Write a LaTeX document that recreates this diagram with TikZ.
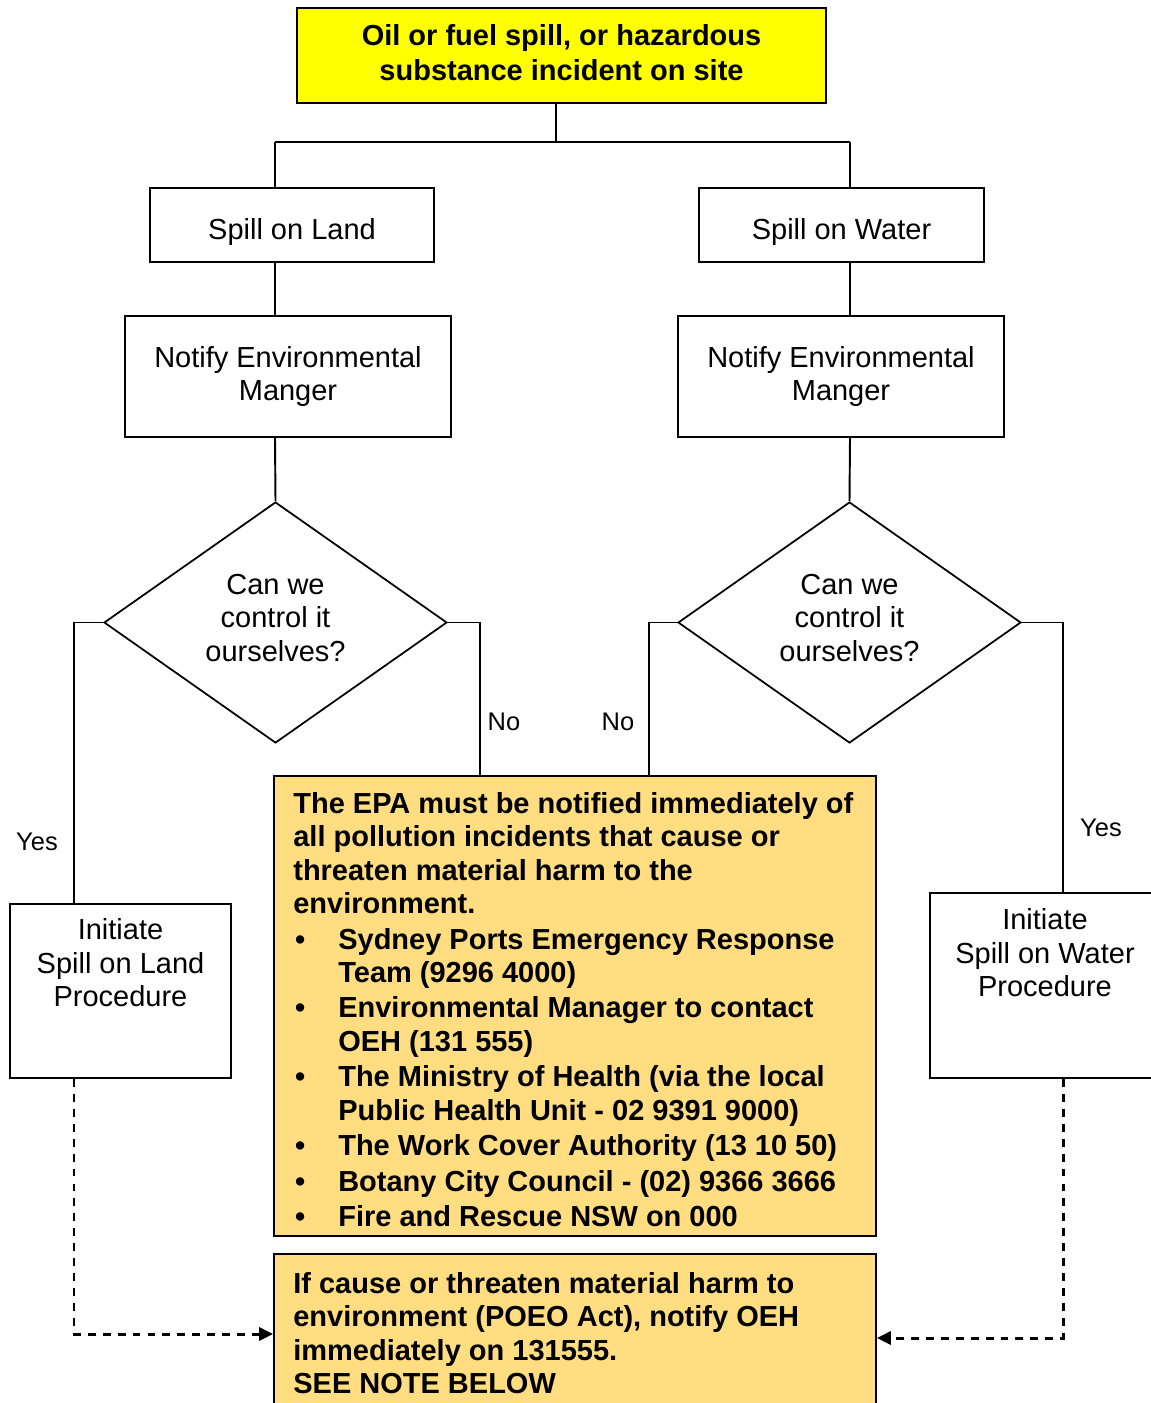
\documentclass[tikz,border=0pt]{standalone}
\usepackage{fontspec}
\setmainfont{Liberation Sans}
\usetikzlibrary{shapes.geometric,arrows.meta,positioning}
\definecolor{notefill}{RGB}{255,221,128}
\definecolor{alarmfill}{RGB}{255,255,0}
\newcommand{\bul}{\makebox[25.6pt][l]{\hspace{1pt}\textbullet}}
\newcommand{\cnt}{\hspace*{25.6pt}}

\begin{document}
\begin{tikzpicture}[x=0.02cm,y=-0.02cm,
    every node/.style={inner sep=0pt,font=\fontsize{16.5}{19}\selectfont},
    box/.style={draw,line width=1.1pt,align=center},
    onerow/.style={box,text height=20.5pt,text depth=3.5pt},
    alarmbox/.style={box,fill=alarmfill},
    alarmtxt/.style={align=center,font=\fontsize{16.5}{20}\selectfont\bfseries},
    ask/.style={diamond,draw,line width=1pt,shape aspect=1.42,
        minimum width=6.86cm,minimum height=4.82cm},
    txt/.style={align=center},
    notebox/.style={draw,line width=1.1pt,fill=notefill},
    note/.style={align=left,font=\fontsize{16.5}{19}\selectfont\bfseries},
    lab/.style={font=\fontsize{14.5}{17}\selectfont},
    wire/.style={line width=1.1pt},
    back/.style={line width=1.7pt,dash pattern=on 4.5pt off 4pt,
        -{Triangle[length=8pt,width=7.5pt]}}]
    \useasboundingbox (0,0) rectangle (1151,1403);
    \fill [white] (0,0) rectangle (1151,1403);
    \clip (0,0) rectangle (1151,1403);

    \node [alarmbox,minimum width=10.58cm,minimum height=1.9cm] (spill) at (561.5,55.5) {};
    \node [alarmtxt] (spilltxt) at (561.5,52.5) {Oil or fuel spill, or hazardous\\substance incident on site};
    \node [onerow,minimum width=5.68cm,minimum height=1.48cm] (land) at (292,225) {Spill on Land};
    \node [onerow,minimum width=5.7cm,minimum height=1.48cm] (water) at (841.5,225) {Spill on Water};
    \node [box,minimum width=6.52cm,minimum height=2.42cm] (notland) at (288,376.5)
        {Notify Environmental\\Manger};
    \node [box,minimum width=6.52cm,minimum height=2.42cm] (notwater) at (841,376.5)
        {Notify Environmental\\Manger};
    \node [ask] (askland) at (275.5,622.5) {};
    \node [txt] (asklandtxt) at (275.5,618) {Can we\\control it\\ourselves?};
    \node [ask] (askwater) at (849.5,622.5) {};
    \node [txt] (askwatertxt) at (849.5,618) {Can we\\control it\\ourselves?};

    \node [box,minimum width=4.42cm,minimum height=3.48cm] (initland) at (120.5,991) {};
    \node [txt,below=0.31cm of initland.north] (initlandtxt) {Initiate\\Spill on Land\\Procedure};
    \node [box,minimum width=4.6cm,minimum height=3.7cm] (initwater) at (1045,985.5) {};
    \node [txt,below=0.33cm of initwater.north] (initwatertxt) {Initiate\\Spill on Water\\Procedure};

    \node [notebox,minimum width=12.04cm,minimum height=9.2cm] (epa) at (575,1006) {};
    \node [note,anchor=north west] (epatxt) at (293,792) {The EPA must be notified immediately of\\
        all pollution incidents that cause or\\
        threaten material harm to the\\
        environment.\\[1.2pt]
        \bul Sydney Ports Emergency Response\\
        \cnt Team (9296 4000)\\[1.2pt]
        \bul Environmental Manager to contact\\
        \cnt OEH (131 555)\\[1.2pt]
        \bul The Ministry of Health (via the local\\
        \cnt Public Health Unit - 02 9391 9000)\\[1.2pt]
        \bul The Work Cover Authority (13 10 50)\\[1.2pt]
        \bul Botany City Council - (02) 9366 3666\\[1.2pt]
        \bul Fire and Rescue NSW on 000};
    \node [notebox,minimum width=12.04cm,minimum height=3.8cm] (poeo) at (575,1349) {};
    \node [note,anchor=north west] (poeotxt) at (293,1272) {If cause or threaten material harm to\\
        environment (POEO Act), notify OEH\\
        immediately on 131555.\\
        SEE NOTE BELOW};

    \node [lab] (yesland) at (37,842) {Yes};
    \node [lab] (noland) at (504,722) {No};
    \node [lab] (nowater) at (618,722) {No};
    \node [lab] (yeswater) at (1101,828) {Yes};

    \coordinate (fork) at (556,142);
    \coordinate (forkl) at (275,142);
    \coordinate (forkr) at (850,142);
    \coordinate (yl) at (74,0);
    \coordinate (nl) at (480,0);
    \coordinate (nr) at (649,0);
    \coordinate (yr) at (1063,0);
    \coordinate (dl) at (74,1334);
    \coordinate (dr) at (1063,1338);

    \draw [wire] (spill.south -| fork) -- (fork);
    \draw [wire] (forkl) -- (forkr);
    \draw [wire] (forkl) -- (forkl |- land.north);
    \draw [wire] (forkr) -- (forkr |- water.north);
    \draw [wire] (land.south -| forkl) -- (notland.north -| forkl);
    \draw [wire] (water.south -| forkr) -- (notwater.north -| forkr);
    \draw [wire] (notland.south -| forkl) -- (askland.north);
    \draw [wire] (notwater.south -| forkr) -- (askwater.north);
    \draw [wire] (askland.west) -- (askland.west -| yl) -- (yl |- initland.north);
    \draw [wire] (askland.east) -- (askland.east -| nl) -- (nl |- epa.north);
    \draw [wire] (askwater.west) -- (askwater.west -| nr) -- (nr |- epa.north);
    \draw [wire] (askwater.east) -- (askwater.east -| yr) -- (yr |- initwater.north);
    \draw [back] (initland.south -| dl) -- (dl) -- (dl -| poeo.west);
    \draw [back] (initwater.south -| dr) -- (dr) -- (dr -| poeo.east);
\end{tikzpicture}
\end{document}
